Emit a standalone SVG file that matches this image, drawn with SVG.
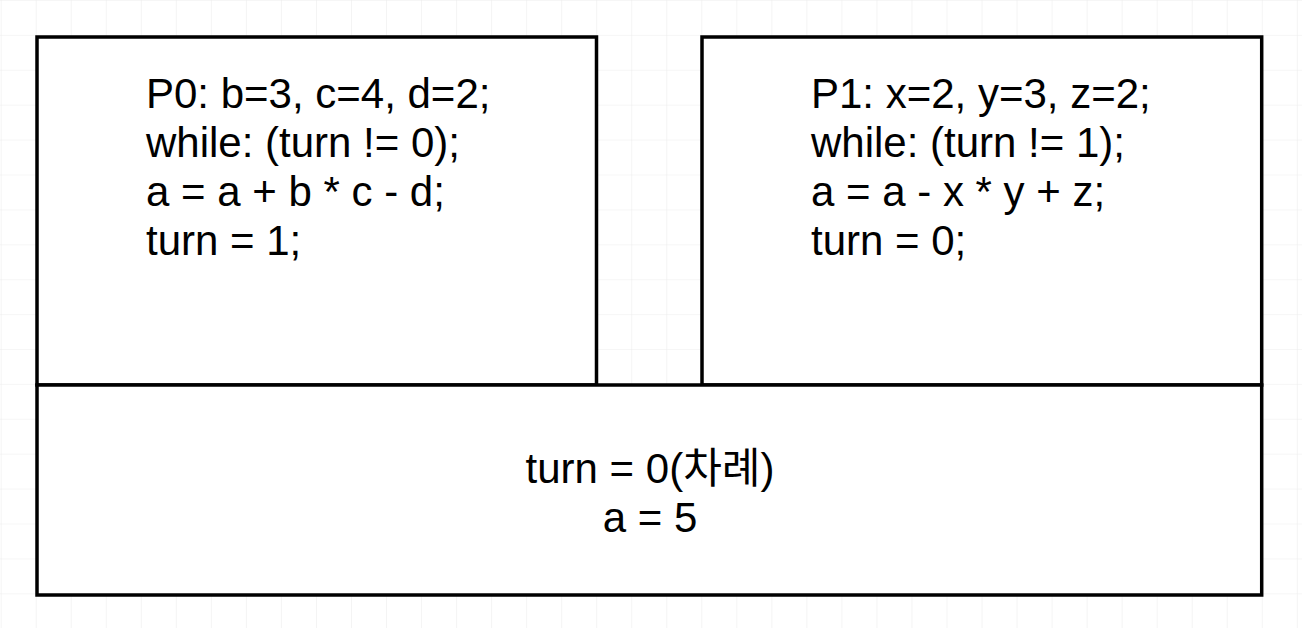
<svg xmlns="http://www.w3.org/2000/svg" width="1302" height="628" viewBox="0 0 1302 628">
  <defs>
    <pattern id="grid" x="0.7" y="0" width="35.03" height="34.9" patternUnits="userSpaceOnUse">
      <path d="M 0 0 L 35.03 0 M 0 0 L 0 34.9" fill="none" stroke="#ededed" stroke-width="1.2"/>
    </pattern>
  </defs>
  <style>
    .box { fill: #ffffff; stroke: #000000; stroke-width: 3.5; }
    .txt { font-family: "Liberation Sans", Arial, "Noto Sans CJK KR", sans-serif; font-size: 42px; fill: #000000; }
  </style>
  <rect x="0" y="0" width="1302" height="628" fill="#ffffff"/>
  <rect x="0" y="0" width="1302" height="628" fill="url(#grid)"/>
  <g id="connectors"></g>
  <g id="p0">
    <rect class="box" x="37" y="37" width="559.5" height="348"/>
    <text class="txt" x="146" y="108">P0: b=3, c=4, d=2;</text>
    <text class="txt" x="146" y="157">while: (turn != 0);</text>
    <text class="txt" x="146" y="206">a = a + b * c - d;</text>
    <text class="txt" x="146" y="255">turn = 1;</text>
  </g>
  <g id="p1">
    <rect class="box" x="702" y="37" width="559.7" height="348"/>
    <text class="txt" x="811" y="108">P1: x=2, y=3, z=2;</text>
    <text class="txt" x="811" y="157">while: (turn != 1);</text>
    <text class="txt" x="811" y="206">a = a - x * y + z;</text>
    <text class="txt" x="811" y="255">turn = 0;</text>
  </g>
  <g id="shared">
    <rect class="box" x="37" y="385" width="1224.7" height="210"/>
    <text class="txt" x="650" y="483" text-anchor="middle">turn = 0(차례)</text>
    <text class="txt" x="650" y="532" text-anchor="middle">a = 5</text>
  </g>
</svg>
